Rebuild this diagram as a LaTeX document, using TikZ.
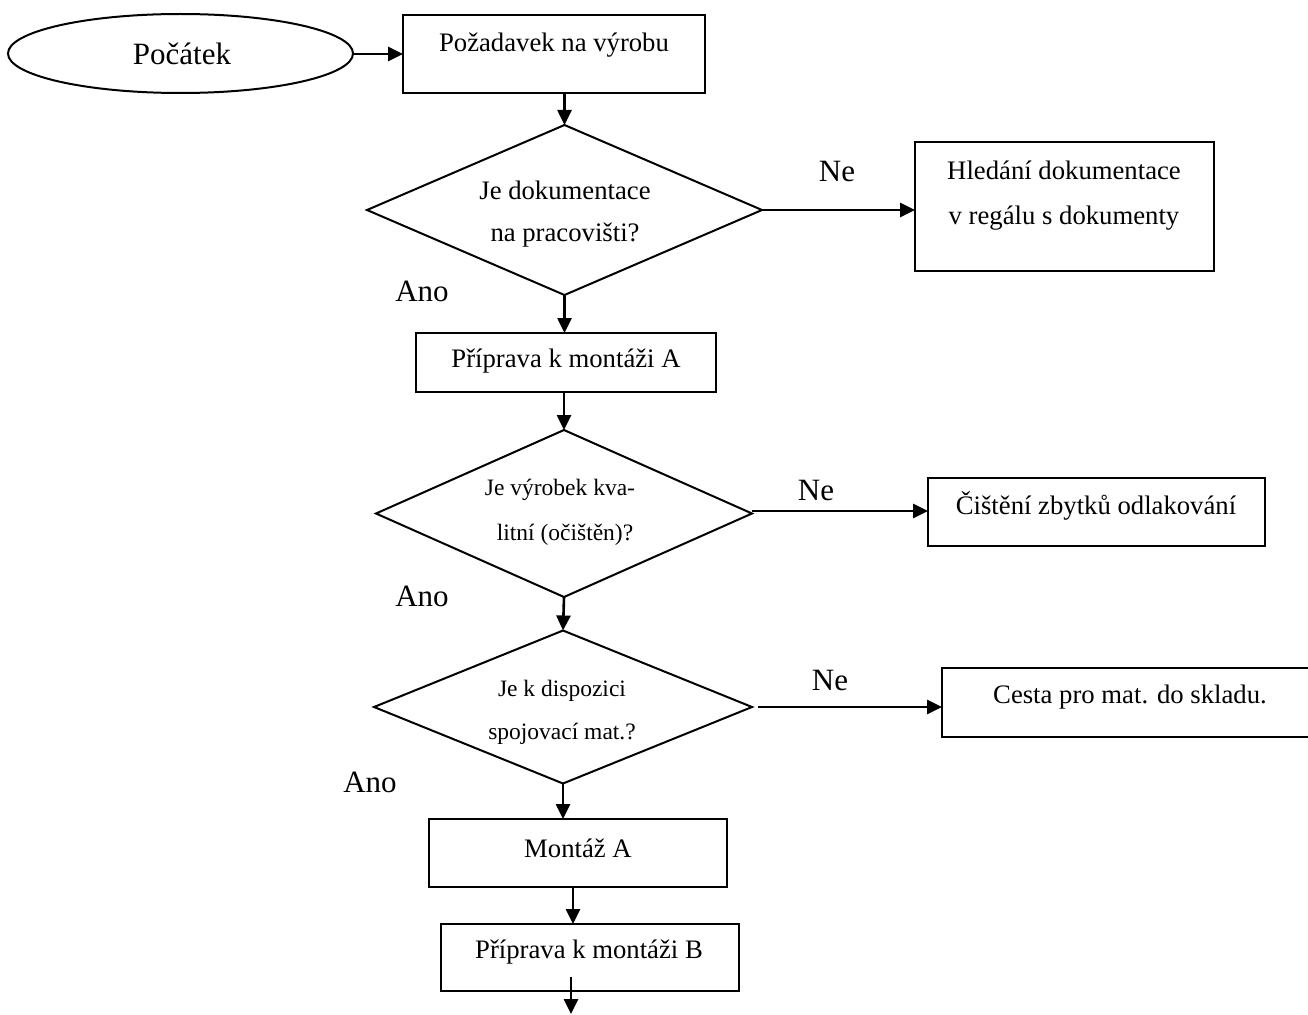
\documentclass[tikz,border=0pt]{standalone}
\usepackage{fontspec}
\setmainfont{Liberation Serif}
\usetikzlibrary{shapes.geometric,arrows.meta}
\begin{document}
\begin{tikzpicture}[x=1pt,y=-1pt,
  line width=2.6pt,
  box/.style={draw, rectangle, inner sep=0pt, outer sep=0pt, line width=2.2pt},
  dec/.style={draw, diamond, inner sep=0pt, outer sep=0pt, line width=2pt},
  txt/.style={inner sep=0pt, font=\fontsize{26.7}{30}\selectfont},
  dtxt/.style={inner sep=0pt, font=\fontsize{23.5}{27}\selectfont},
  lbl/.style={inner sep=0pt, font=\fontsize{31}{34}\selectfont},
  arr/.style={-{Triangle[length=15pt,width=14pt]}}]
\useasboundingbox (0,0) rectangle (1308,1014);
\clip (0,0) rectangle (1308,1014);

% start terminal
\node[draw, ellipse, minimum width=345, minimum height=79, inner sep=0pt, line width=2pt, outer sep=0pt]
  (start) at (180.5,53.5) {};
\node[lbl] (startT) at (182,54) {Počátek};

% process boxes
\node[box, anchor=north west, minimum width=302, minimum height=78] (req) at (403,15) {};
\node[txt] (reqT) at (554,45) {Požadavek na výrobu};

\node[box, anchor=north west, minimum width=299, minimum height=129] (find) at (915,142) {};
\node[txt] (findT1) at (1064,170) {Hledání dokumentace};
\node[txt] (findT2) at (1064,218) {v regálu s dokumenty};

\node[box, anchor=north west, minimum width=300, minimum height=59] (prepA) at (416,333) {};
\node[txt] (prepAT) at (566,361) {Příprava k montáži A};

\node[box, anchor=north west, minimum width=337, minimum height=68] (clean) at (928,478) {};
\node[txt] (cleanT) at (1096,506) {Čištění zbytků odlakování};

\node[box, anchor=north west, minimum width=380, minimum height=69] (fetch) at (942,668) {};
\node[txt] (fetchT) at (1130,697) {Cesta pro mat. do skladu.};

\node[box, anchor=north west, minimum width=298, minimum height=68] (montA) at (429,819) {};
\node[txt] (montAT) at (578,848) {Montáž A};

\node[box, anchor=north west, minimum width=298, minimum height=67] (prepB) at (441,924) {};
\node[txt] (prepBT) at (589,952) {Příprava k montáži B};

% decisions
\node[dec, minimum width=395, minimum height=170] (q1) at (564.5,210) {};
\node[txt] (q1T1) at (565,190) {Je dokumentace};
\node[txt] (q1T2) at (565,235) {na pracovišti?};

\node[dec, minimum width=376, minimum height=167] (q2) at (564,513.5) {};
\node[dtxt] (q2T1) at (560,490) {Je výrobek kva-};
\node[dtxt] (q2T2) at (565,535) {litní (očištěn)?};

\node[dec, minimum width=378, minimum height=153] (q3) at (563,707) {};
\node[dtxt] (q3T1) at (562,691) {Je k dispozici};
\node[dtxt] (q3T2) at (562,734) {spojovací mat.?};

% branch labels
\node[lbl] (ne1) at (837,172) {Ne};
\node[lbl] (ne2) at (816,490) {Ne};
\node[lbl] (ne3) at (830,680) {Ne};
\node[lbl] (ano1) at (422,291) {Ano};
\node[lbl] (ano2) at (422,596) {Ano};
\node[lbl] (ano3) at (370,782) {Ano};

% connectors
\coordinate (q3out) at ([xshift=6pt]q3.east);
\coordinate (endpt) at (571,1014);
\coordinate (outB) at (571,977);

\draw[arr] (start.east |- req.west) -- (req.west);
\draw[arr] (req.south -| q1.north) -- (q1.north);
\draw[arr] (q1.east) -- (q1.east -| find.west);
\draw[arr] (q1.south) -- (q1.south |- prepA.north);
\draw[arr] (q2.north |- prepA.south) -- (q2.north);
\draw[arr] ([yshift=2.5pt]q2.east) -- ([yshift=2.5pt]q2.east -| clean.west);
\draw[arr] (q2.south) -- (q3.north);
\draw[arr] (q3out) -- (q3out -| fetch.west);
\draw[arr] (q3.south) -- (q3.south |- montA.north);
\draw[arr] (573,0 |- montA.south) -- (573,0 |- prepB.north);
\draw[arr] (outB) -- (endpt);
\end{tikzpicture}
\end{document}
